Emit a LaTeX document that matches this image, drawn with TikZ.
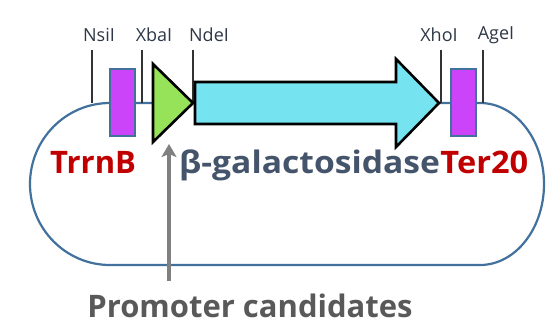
\documentclass[tikz,border=0pt]{standalone}
\usepackage{fontspec}
\setmainfont{Open Sans}
\usetikzlibrary{arrows.meta}
\definecolor{loopblue}{RGB}{65,113,156}
\definecolor{termpurple}{RGB}{204,68,250}
\definecolor{promgreen}{RGB}{150,226,88}
\definecolor{genecyan}{RGB}{118,228,240}
\definecolor{darkred}{RGB}{192,0,0}
\definecolor{genetext}{RGB}{68,84,106}
\definecolor{graytext}{RGB}{89,89,89}
\definecolor{sitetext}{RGB}{45,55,70}
\tikzset{
  term/.style={draw=loopblue, line width=2pt, fill=termpurple},
  siteline/.style={draw=black!80, line width=1.3pt},
  sitelabel/.style={font=\fontsize{18}{18}\selectfont, text=sitetext, inner sep=0pt},
  biglabel/.style={font=\fontsize{31}{31}\selectfont\bfseries, inner sep=0pt},
}
\begin{document}
\begin{tikzpicture}[x=1pt,y=-1pt]
\useasboundingbox (0,0) rectangle (548,327);
% backbone loop
\draw[loopblue, line width=2.2pt]
  (110,103) -- (480,103)
  arc[start angle=-90, end angle=90, x radius=64, y radius=81]
  -- (110,265)
  arc[start angle=90, end angle=270, x radius=80, y radius=81] -- cycle;
% restriction site lines
\coordinate (nsiTop) at (92,50);   \coordinate (nsiBot) at (92,103);
\coordinate (xbaTop) at (142,50);  \coordinate (xbaBot) at (142,103);
\coordinate (ndeTop) at (193,50);  \coordinate (ndeBot) at (193,103);
\coordinate (xhoTop) at (441,50);  \coordinate (xhoBot) at (441,103);
\coordinate (ageTop) at (483,50);  \coordinate (ageBot) at (483,103);
\draw[siteline] (nsiTop) -- (nsiBot);
\draw[siteline] (xbaTop) -- (xbaBot);
\draw[siteline] (ndeTop) -- (ndeBot);
\draw[siteline] (xhoTop) -- (xhoBot);
\draw[siteline] (ageTop) -- (ageBot);
\node[sitelabel] (nsi) at (99,35) {NsiI};
\node[sitelabel] (xba) at (154,35) {XbaI};
\node[sitelabel] (nde) at (209,35) {NdeI};
\node[sitelabel] (xho) at (439,35) {XhoI};
\node[sitelabel] (age) at (496,35) {AgeI};
% terminators
\draw[term] (110,69) rectangle (135,136);
\draw[term] (451,69) rectangle (476,136);
% promoter triangle
\draw[black, line width=2.6pt, fill=promgreen, line join=miter]
  (153,64) -- (193,103) -- (153,142) -- cycle;
% gene arrow
\draw[black, line width=2.6pt, fill=genecyan, line join=miter]
  (195,82) -- (396,82) -- (396,59) -- (439,103) -- (396,147) -- (396,124) -- (195,124) -- cycle;
% labels
\node[biglabel, text=darkred, anchor=base west] (trrnb) at (50,173) {TrrnB};
\node[biglabel, text=genetext, anchor=base west] (gal) at (179,173) {\addfontfeatures{FakeStretch=1.085}β-galactosidase};
\node[biglabel, text=darkred, anchor=base west] (ter) at (gal.base east) {\addfontfeatures{FakeStretch=1.05}Ter20};
\node[biglabel, text=graytext, anchor=base] (prom) at (250,317) {Promoter candidates};
% promoter candidates arrow
\coordinate (arrStart) at (169,281);
\coordinate (arrEnd) at (169,144);
\draw[gray, line width=3.2pt, -{Stealth[length=13pt,width=15pt,inset=3pt]}] (arrStart) -- (arrEnd);
\end{tikzpicture}
\end{document}
